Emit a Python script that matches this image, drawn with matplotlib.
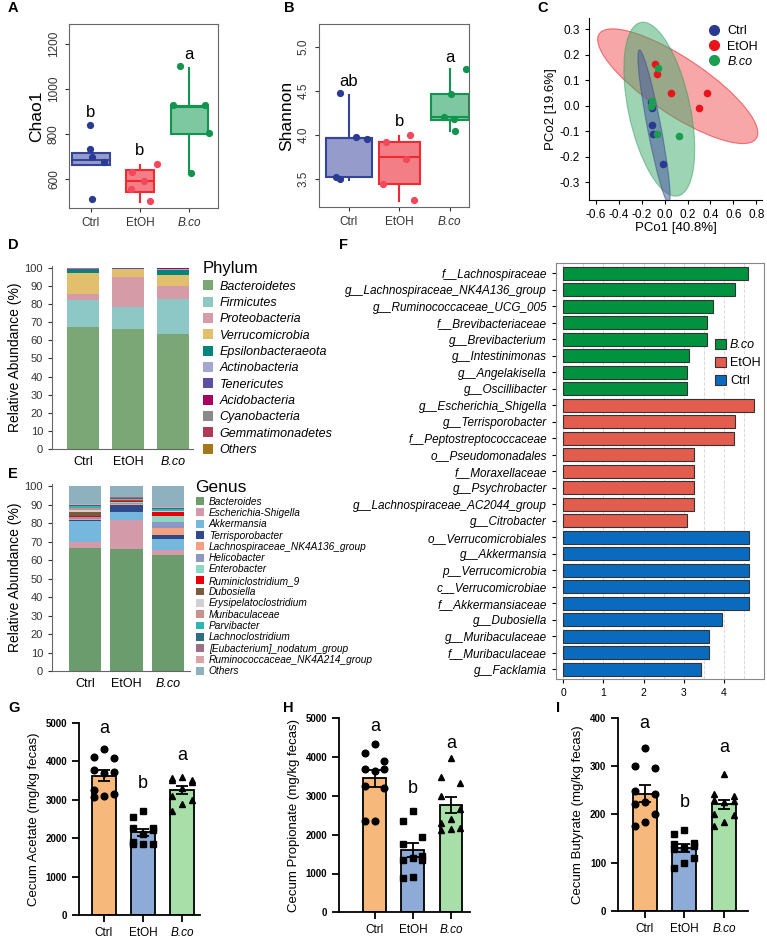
import numpy as np
import matplotlib
matplotlib.use('Agg')
import matplotlib.pyplot as plt
from matplotlib.patches import Ellipse, Patch
from matplotlib.lines import Line2D
from matplotlib.ticker import MultipleLocator

plt.rcParams['font.family'] = ['Liberation Sans', 'DejaVu Sans']
plt.rcParams['axes.unicode_minus'] = False

groups = ['Ctrl', 'EtOH', 'B.co']

# ---- A: Chao1 (box summaries)
chao_q1 = [661, 540, 801]
chao_med = [683, 589, 920]
chao_q3 = [716, 638, 925]
chao_lo = [661, 495, 627]
chao_hi = [716, 661, 1092]
chao_pts = [[838, 731, 697, 674, 510], [667, 631, 589, 555, 503], [1101, 931, 931, 806, 627]]
chao_letters = ['b', 'b', 'a']
chao_letter_y = [896, 728, 1156]

# ---- B: Shannon
shan_q1 = [3.52, 3.445, 4.17]
shan_med = [3.96, 3.745, 4.20]
shan_q3 = [3.96, 3.92, 4.47]
shan_lo = [3.49, 3.25, 4.045]
shan_hi = [4.45, 3.99, 4.75]
shan_pts = [[4.475, 3.97, 3.955, 3.52, 3.50], [4.003, 3.92, 3.73, 3.445, 3.26], [4.75, 4.46, 4.20, 4.175, 4.04]]
shan_letters = ['ab', 'b', 'a']
shan_letter_y = [4.61, 4.15, 4.88]

# ---- C: PCoA
ctrl_pc1 = [-0.12, -0.113, -0.113, -0.104, -0.012]
ctrl_pc2 = [0.015, -0.007, -0.077, -0.109, -0.23]
etoh_pc1 = [-0.084, -0.07, 0.052, 0.374, 0.301]
etoh_pc2 = [0.166, 0.124, 0.051, 0.052, -0.008]
bco_pc1 = [-0.055, -0.11, -0.122, -0.07, 0.125]
bco_pc2 = [0.149, 0.018, -0.001, -0.112, -0.12]

# ---- D: phylum composition (%)
phylum_names = ['Bacteroidetes', 'Firmicutes', 'Proteobacteria', 'Verrucomicrobia',
                'Epsilonbacteraeota', 'Actinobacteria', 'Tenericutes', 'Acidobacteria',
                'Cyanobacteria', 'Gemmatimonadetes', 'Others']
phylum_ctrl = [67.5, 15.0, 3.0, 11.5, 1.8, 0.3, 0.5, 0.1, 0.1, 0.05, 0.15]
phylum_etoh = [66.3, 12.0, 16.9, 4.0, 0.4, 0.1, 0.1, 0.05, 0.05, 0.02, 0.08]
phylum_bco = [63.5, 19.5, 7.2, 6.1, 2.7, 0.3, 0.4, 0.05, 0.05, 0.05, 0.15]
phylum_colors = ['#7BA776', '#8DC8C6', '#D59BA6', '#E2BF6C', '#00857A', '#A4A6D2',
                 '#5E4FA2', '#A8005C', '#8A8A8A', '#B03A55', '#A6761D']

# ---- E: genus composition (%)
genus_names = ['Bacteroides', 'Escherichia-Shigella', 'Akkermansia', 'Terrisporobacter',
               'Lachnospiraceae_NK4A136_group', 'Helicobacter', 'Enterobacter',
               'Ruminiclostridium_9', 'Dubosiella', 'Erysipelatoclostridium', 'Muribaculaceae',
               'Parvibacter', 'Lachnoclostridium', '[Eubacterium]_nodatum_group',
               'Ruminococcaceae_NK4A214_group', 'Others']
genus_ctrl = [66.5, 3.0, 11.5, 0.5, 0.5, 1.0, 0.5, 0.5, 2.0, 1.0, 1.0, 1.0, 0.5, 0.5, 0.5, 9.5]
genus_etoh = [66.2, 15.6, 4.0, 3.7, 1.0, 0.3, 0.3, 0.8, 0.3, 0.3, 0.5, 0.2, 0.3, 0.5, 0.2, 5.8]
genus_bco = [62.8, 2.7, 6.0, 2.0, 4.0, 2.8, 3.7, 1.8, 0.2, 0.3, 0.4, 0.9, 0.4, 0.2, 0.3, 11.5]
genus_colors = ['#6A9C6E', '#D39AAA', '#76B7DD', '#2F4A8A', '#F2A07F', '#8C97C4', '#8ED6C1',
                '#E8000B', '#7B5B3E', '#D0D0D0', '#C9918A', '#2FB3B5', '#2E6E84', '#9C6F86',
                '#D9A3A8', '#8FB0BE']

# ---- F: LDA scores
lda_taxa = ['f__Lachnospiraceae', 'g__Lachnospiraceae_NK4A136_group', 'g__Ruminococcaceae_UCG_005',
            'f__Brevibacteriaceae', 'g__Brevibacterium', 'g__Intestinimonas', 'g__Angelakisella',
            'g__Oscillibacter', 'g__Escherichia_Shigella', 'g__Terrisporobacter',
            'f__Peptostreptococcaceae', 'o__Pseudomonadales', 'f__Moraxellaceae', 'g__Psychrobacter',
            'g__Lachnospiraceae_AC2044_group', 'g__Citrobacter', 'o__Verrucomicrobiales',
            'g__Akkermansia', 'p__Verrucomicrobia', 'c__Verrucomicrobiae', 'f__Akkermansiaceae',
            'g__Dubosiella', 'g__Muribaculaceae', 'f__Muribaculaceae', 'g__Facklamia']
lda_score = [4.59, 4.29, 3.72, 3.57, 3.57, 3.14, 3.07, 3.07,
             4.75, 4.28, 4.26, 3.26, 3.26, 3.26, 3.25, 3.07,
             4.63, 4.63, 4.63, 4.63, 4.63, 3.96, 3.62, 3.62, 3.43]
lda_group = ['B.co'] * 8 + ['EtOH'] * 8 + ['Ctrl'] * 9

# ---- G/H/I: SCFA (mg/kg)
acetate = [[4320, 4100, 4070, 3780, 3720, 3700, 3250, 3150, 3100, 3080],
           [2700, 2550, 2250, 2250, 2200, 2100, 1900, 1850, 1850, 1850],
           [3580, 3550, 3500, 3500, 3450, 3300, 3100, 3000, 2880, 2700]]
propionate = [[4350, 4100, 3900, 3700, 3700, 3650, 3250, 3200, 2350, 2350],
              [2620, 2350, 1950, 1750, 1450, 1400, 1350, 1350, 900, 880],
              [3980, 3500, 3330, 3000, 2650, 2400, 2300, 2180, 2150, 2120]]
butyrate = [[338, 300, 295, 248, 242, 225, 222, 200, 185, 175],
            [168, 160, 140, 138, 135, 130, 128, 110, 100, 90],
            [283, 242, 238, 230, 228, 225, 200, 198, 185, 175]]
scfa_letters = ['a', 'b', 'a']

# ---------------------------------------------------------------
box_edge = ['#34449A', '#EE2A33', '#129550']
box_fill = ['#959CCB', '#F47E86', '#7DC8A0']
pt_col = ['#2B3A93', '#F4475B', '#13934D']
pc_col = ['#2B3990', '#E8141A', '#1B9E4F']
lda_col = {'B.co': '#00923F', 'EtOH': '#E35D4F', 'Ctrl': '#0A6BBE'}
bar_col = ['#F6B97B', '#8EABD8', '#A8DFA8']

fig = plt.figure(figsize=(7.67, 9.39), dpi=100)


def px_axes(l, t, r, b):
    return fig.add_axes([l / 767, 1 - b / 939, (r - l) / 767, (b - t) / 939])


def italic_bco(labels):
    for t in labels:
        if t.get_text() == 'B.co':
            t.set_style('italic')


def panel_letter(x, y, s):
    fig.text(x / 767, 1 - y / 939, s, fontsize=10.5, fontweight='bold', va='center', ha='left')


def box_panel(ax, q1, med, q3, lo, hi, pts, jit, widths, ylim, yticks, ylabel, letters, letter_y, xlim):
    stats = [dict(q1=q1[i], med=med[i], q3=q3[i], whislo=lo[i], whishi=hi[i], fliers=[])
             for i in range(3)]
    art = ax.bxp(stats, positions=[0, 1, 2], widths=widths, patch_artist=True,
                 showcaps=False, showfliers=False)
    for i in range(3):
        art['boxes'][i].set(facecolor=box_fill[i], edgecolor=box_edge[i], linewidth=1.5)
        art['medians'][i].set(color=box_edge[i], linewidth=1.5)
        for w in art['whiskers'][2 * i:2 * i + 2]:
            w.set(color=box_edge[i], linewidth=1.5)
        ax.plot(i + np.array(jit[i]), pts[i], 'o', color=pt_col[i], ms=4.2, zorder=5)
        ax.text(i, letter_y[i], letters[i], ha='center', va='center', fontsize=12)
    ax.set_xlim(*xlim)
    ax.set_ylim(*ylim)
    ax.set_yticks(yticks)
    ax.set_xticks([0, 1, 2])
    ax.set_xticklabels(groups, fontsize=8.5)
    italic_bco(ax.get_xticklabels())
    for t in ax.get_yticklabels():
        t.set_rotation(90)
        t.set_va('center')
    ax.tick_params(labelsize=8.5, colors='#333333', length=3)
    ax.set_ylabel(ylabel, fontsize=12.5, labelpad=3)
    for s in ax.spines.values():
        s.set_color('#666666')


# A
axA = px_axes(69, 24, 218, 208)
box_panel(axA, chao_q1, chao_med, chao_q3, chao_lo, chao_hi, chao_pts,
          [[-0.01, -0.01, 0.03, 0.26, 0.03], [0.34, -0.16, 0.08, -0.19, 0.2],
           [-0.19, -0.33, 0.32, 0.39, 0.03]],
          [0.77, 0.58, 0.76], (470, 1290), [600, 800, 1000, 1200], 'Chao1',
          chao_letters, chao_letter_y, (-0.44, 2.58))

# B
axB = px_axes(319, 24, 469, 207)
box_panel(axB, shan_q1, shan_med, shan_q3, shan_lo, shan_hi, shan_pts,
          [[-0.17, 0.15, 0.37, -0.25, -0.17], [0.22, -0.27, 0.13, -0.33, 0.3],
           [0.33, 0.03, -0.12, 0.08, 0.11]],
          [0.9, 0.8, 0.76], (3.18, 5.26), [3.5, 4.0, 4.5, 5.0], 'Shannon',
          shan_letters, shan_letter_y, (-0.59, 2.38))

# C
axC = px_axes(589, 18, 762, 200)


def conf_ellipse(ax, x, y, r, **kw):
    cov = np.cov(x, y)
    vals, vecs = np.linalg.eigh(cov)
    order = vals.argsort()[::-1]
    vals, vecs = vals[order], vecs[:, order]
    angle = np.degrees(np.arctan2(vecs[1, 0], vecs[0, 0]))
    ax.add_patch(Ellipse((np.mean(x), np.mean(y)), 2 * r * np.sqrt(vals[0]),
                         2 * r * np.sqrt(vals[1]), angle=angle, **kw))


conf_ellipse(axC, etoh_pc1, etoh_pc2, 3.3, facecolor='#F26D6D', alpha=0.6, edgecolor='#E8262E', lw=0.8)
conf_ellipse(axC, bco_pc1, bco_pc2, 3.1, facecolor='#3DAA6A', alpha=0.5, edgecolor='#2E9A5A', lw=0.8)
conf_ellipse(axC, ctrl_pc1, ctrl_pc2, 3.1, facecolor='#4B5B9E', alpha=0.55, edgecolor='#3A4A8E', lw=0.8)
axC.scatter(ctrl_pc1, ctrl_pc2, s=20, color=pc_col[0], zorder=5)
axC.scatter(etoh_pc1, etoh_pc2, s=20, color=pc_col[1], zorder=5)
axC.scatter(bco_pc1, bco_pc2, s=20, color=pc_col[2], zorder=5)
axC.set_xlim(-0.66, 0.85)
axC.set_ylim(-0.37, 0.345)
axC.set_xticks(np.arange(-0.6, 0.81, 0.2))
axC.set_yticks(np.arange(-0.3, 0.31, 0.1))
axC.xaxis.set_major_formatter(matplotlib.ticker.FormatStrFormatter('%.1f'))
axC.yaxis.set_major_formatter(matplotlib.ticker.FormatStrFormatter('%.1f'))
axC.spines[['top', 'right']].set_visible(False)
axC.tick_params(labelsize=8.5, length=3)
axC.set_xlabel('PCo1 [40.8%]', fontsize=9.5, labelpad=1)
axC.set_ylabel('PCo2 [19.6%]', fontsize=9.5, labelpad=2)
hC = [Line2D([], [], ls='none', marker='o', ms=7, color=c) for c in pc_col]
legC = axC.legend(hC, groups, loc='upper right', bbox_to_anchor=(1.02, 1.0), frameon=False,
                  fontsize=9, handletextpad=0.1, labelspacing=0.25, borderaxespad=0.2)
italic_bco(legC.get_texts())


def stack_panel(ax, comp, names, colors, width, xlim, title, legend_font, title_font,
                anchor, spacing, hsize):
    comp = np.array(comp)
    bottoms = np.zeros(3)
    handles = []
    for j in range(comp.shape[1]):
        ax.bar([0, 1, 2], comp[:, j], bottom=bottoms, width=width, color=colors[j], linewidth=0)
        bottoms += comp[:, j]
        handles.append(Patch(facecolor=colors[j]))
    ax.set_xlim(*xlim)
    ax.set_ylim(0, 101.1)
    ax.set_yticks(range(0, 101, 10))
    ax.set_xticks([0, 1, 2])
    ax.set_xticklabels(groups, fontsize=9)
    italic_bco(ax.get_xticklabels())
    ax.spines[['top', 'right']].set_visible(False)
    ax.spines[['left', 'bottom']].set_color('#666666')
    ax.tick_params(axis='y', labelsize=8, length=3, colors='#333333')
    ax.tick_params(axis='x', length=0, pad=5)
    ax.set_ylabel('Relative Abundance (%)', fontsize=10, labelpad=2)
    leg = ax.legend(handles, names, loc='upper left', bbox_to_anchor=anchor, frameon=False,
                    fontsize=legend_font, title=title, title_fontsize=title_font,
                    alignment='left', handlelength=hsize, handleheight=hsize,
                    handletextpad=0.5, labelspacing=spacing, borderaxespad=0, borderpad=0)
    for t in leg.get_texts():
        t.set_style('italic')


# D
axD = px_axes(52, 266, 193, 449)
stack_panel(axD, [phylum_ctrl, phylum_etoh, phylum_bco], phylum_names, phylum_colors, 0.71,
            (-0.69, 2.44), 'Phylum', 9, 12, (1.07, 1.025), 0.32, 0.85)

# E
axE = px_axes(52, 484, 190, 671)
stack_panel(axE, [genus_ctrl, genus_etoh, genus_bco], genus_names, genus_colors, 0.78,
            (-0.79, 2.53), 'Genus', 7.3, 12.5, (1.04, 1.02), 0.13, 0.8)

# F
axF = px_axes(556, 263, 764, 679)
yF = np.arange(len(lda_taxa))
axF.barh(yF, lda_score, height=0.8, color=[lda_col[g] for g in lda_group],
         edgecolor='#333333', linewidth=0.8, zorder=3)
axF.set_yticks(yF)
axF.set_yticklabels(lda_taxa, fontsize=8.5, style='italic')
axF.set_ylim(len(lda_taxa) - 0.4, -0.62)
axF.set_xlim(-0.18, 5.0)
axF.xaxis.set_major_locator(MultipleLocator(1))
axF.xaxis.set_minor_locator(MultipleLocator(0.5))
axF.set_xticks([0, 1, 2, 3, 4])
axF.grid(axis='x', which='both', ls='--', color='#d9d9d9', lw=0.7, zorder=0)
axF.tick_params(axis='x', which='minor', length=0)
axF.tick_params(labelsize=8.5, length=3)
axF.tick_params(axis='x', labelsize=7.5)
for s in axF.spines.values():
    s.set_color('#888888')
hF = [Patch(facecolor=lda_col[g], edgecolor='#333333', linewidth=0.8) for g in ['B.co', 'EtOH', 'Ctrl']]
legF = axF.legend(hF, ['B.co', 'EtOH', 'Ctrl'], loc='upper left', bbox_to_anchor=(0.74, 0.83),
                  frameon=False, fontsize=9, handlelength=0.9, handleheight=0.9,
                  handletextpad=0.3, labelspacing=0.45, borderaxespad=0)
italic_bco(legF.get_texts())

# G, H, I
scfa_jit = [0, -0.25, 0.25, -0.25, 0.25, 0, -0.25, 0.25, 0, -0.25]
markers = ['o', 's', '^']


def scfa_panel(ax, data, ymax, step, ylabel, letter_y):
    for i, vals in enumerate(data):
        vals = np.array(vals, dtype=float)
        m = vals.mean()
        sem = vals.std(ddof=1) / np.sqrt(len(vals))
        ax.bar(i, m, width=0.6, color=bar_col[i], edgecolor='black', linewidth=1.3, zorder=1)
        ax.plot(i + np.array(scfa_jit), vals, ls='none', marker=markers[i], color='black',
                ms=4.8, zorder=2)
        ax.errorbar(i, m, yerr=sem, color='black', capsize=4, elinewidth=1.3, capthick=1.3, zorder=3)
        ax.text(i, letter_y[i], scfa_letters[i], ha='center', va='center', fontsize=13)
    ax.set_ylim(0, ymax)
    ax.set_yticks(np.arange(0, ymax + 1, step))
    ax.set_xticks([0, 1, 2])
    ax.set_xticklabels(groups, fontsize=8.5)
    italic_bco(ax.get_xticklabels())
    for t in ax.get_yticklabels():
        t.set_fontweight('bold')
    ax.tick_params(axis='y', labelsize=7, width=1.3, length=5)
    ax.tick_params(axis='x', width=1.3, length=5)
    ax.spines[['top', 'right']].set_visible(False)
    ax.spines[['left', 'bottom']].set_linewidth(1.3)
    ax.set_ylabel(ylabel, fontsize=9.5, labelpad=4)


axG = px_axes(79, 722.7, 200, 915)
scfa_panel(axG, acetate, 5000, 1000, 'Cecum Acetate (mg/kg fecas)', [4850, 3420, 4155])
axG.set_xlim(-0.64, 2.46)

axH = px_axes(339, 718.3, 470, 912.3)
scfa_panel(axH, propionate, 5000, 1000, 'Cecum Propionate (mg/kg fecas)', [4784, 3196, 4360])
axH.set_xlim(-0.94, 2.5)

axI = px_axes(618, 717.7, 748, 911)
scfa_panel(axI, butyrate, 400, 100, 'Cecum Butyrate (mg/kg fecas)', [387, 224, 338])
axI.set_xlim(-0.67, 2.6)

panel_letter(8, 8, 'A')
panel_letter(284, 8, 'B')
panel_letter(537, 8, 'C')
panel_letter(8, 245, 'D')
panel_letter(8, 474, 'E')
panel_letter(339, 245, 'F')
panel_letter(8, 708, 'G')
panel_letter(283, 708, 'H')
panel_letter(556, 708, 'I')

fig.savefig('out.png', dpi=100, facecolor='white')
